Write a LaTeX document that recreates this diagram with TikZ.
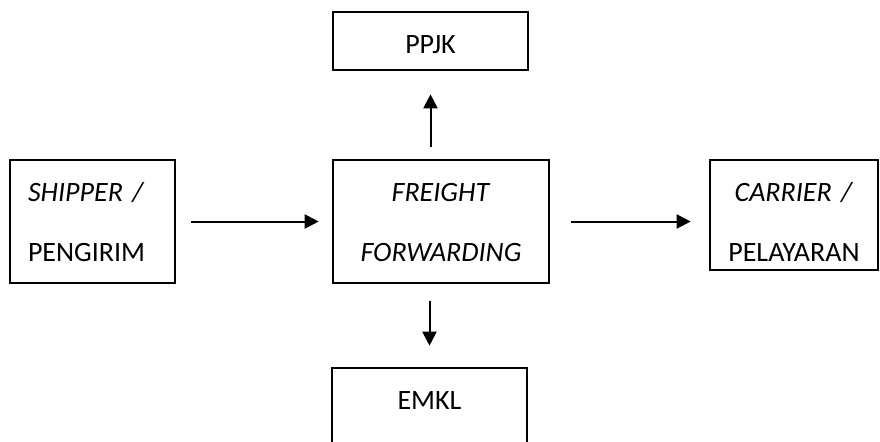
\documentclass[tikz,border=0pt]{standalone}
\usepackage{fontspec}
\setmainfont{Carlito}
\usetikzlibrary{arrows.meta}

\begin{document}
\begin{tikzpicture}[
        x=0.5pt, y=-0.5pt,
        box/.style={rectangle, draw=black, line width=1.3pt, inner xsep=0pt, inner ysep=0pt, text height=20.5pt, align=center, font=\fontsize{14pt}{30pt}\selectfont},
        flow/.style={-{Triangle[length=7pt, width=7pt]}, line width=1pt}
    ]
        \useasboundingbox (0, 0) rectangle (880, 441);
        \clip (0, 0) rectangle (880, 441);

        % Parties
        \node[box, text width=64.5pt, inner xsep=9pt, align=left, text depth=41pt] (shipper) at (92.5, 221.5) {\textit{SHIPPER /}\\PENGIRIM};
        \node[box, text width=108pt, text depth=41pt] (freight) at (441, 221.5) {\textit{FREIGHT}\\\textit{FORWARDING}};
        \node[box, text width=84pt, text depth=34.5pt] (carrier) at (794, 215) {\textit{CARRIER /}\\PELAYARAN};
        \node[box, text width=97.5pt, text depth=8.5pt] (ppjk) at (430.5, 41) {PPJK};
        \node[box, text width=97.5pt, text depth=29.5pt] (emkl) at (429.5, 418) {EMKL};

        % Flows
        \draw[flow, shorten <=7.5pt, shorten >=6.5pt] (shipper) -- (freight);
        \draw[flow, shorten <=10.5pt, shorten >=9pt] (freight) -- (freight -| carrier.west);
        \draw[flow, shorten <=6pt, shorten >=11.5pt] (freight.north -| ppjk) -- (ppjk);
        \draw[flow, shorten <=8.5pt, shorten >=10.5pt] (freight.south -| emkl) -- (emkl);
    \end{tikzpicture}
\end{document}
